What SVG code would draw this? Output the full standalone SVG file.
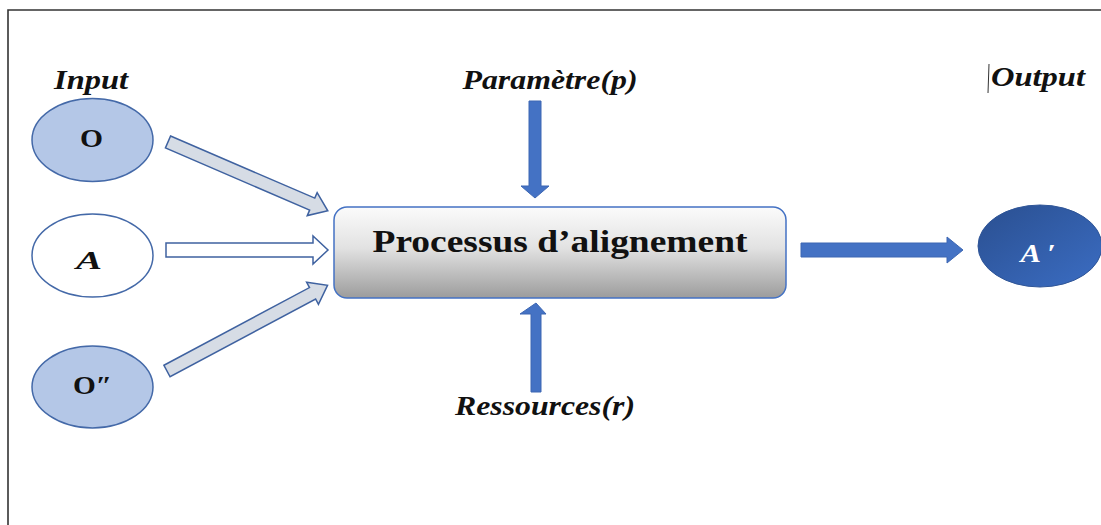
<svg xmlns="http://www.w3.org/2000/svg" width="1101" height="525" viewBox="0 0 1101 525">
<style>
.lbl{font-family:"Liberation Serif","Times New Roman",serif;font-weight:bold;font-style:italic;fill:#111;}
.nodetxt{font-family:"Liberation Serif","Times New Roman",serif;font-weight:bold;fill:#111;}
.inEll{stroke:#4469A8;stroke-width:1.5;}
.hollow{fill:#D6DCE5;stroke:#3F62A0;stroke-width:1.5;}
.solid{fill:#4472C4;stroke:#3D67B3;stroke-width:1;}
</style>
<defs>
<linearGradient id="boxg" x1="0" y1="0" x2="0" y2="1">
<stop offset="0" stop-color="#FBFBFB"/>
<stop offset="0.45" stop-color="#E2E2E2"/>
<stop offset="1" stop-color="#9C9C9C"/>
</linearGradient>
<linearGradient id="outg" x1="0" y1="0" x2="1" y2="1">
<stop offset="0" stop-color="#2A4F90"/>
<stop offset="1" stop-color="#3B6DC3"/>
</linearGradient>
</defs>
<rect width="1101" height="525" fill="#fff"/>
<path d="M8,525 V10 H1101" fill="none" stroke="#333" stroke-width="1.6"/>

<text class="lbl" x="91" y="89" font-size="27" text-anchor="middle" textLength="74" lengthAdjust="spacingAndGlyphs">Input</text>
<text class="lbl" x="550" y="89" font-size="27" text-anchor="middle" textLength="175" lengthAdjust="spacingAndGlyphs">Paramètre(p)</text>
<text class="lbl" x="545" y="415" font-size="27" text-anchor="middle" textLength="180" lengthAdjust="spacingAndGlyphs">Ressources(r)</text>
<line x1="989" y1="64" x2="988" y2="93" stroke="#333" stroke-width="1"/>
<text class="lbl" x="1038" y="86" font-size="27" text-anchor="middle" textLength="94" lengthAdjust="spacingAndGlyphs">Output</text>

<g id="connectors">
<polygon class="hollow" transform="translate(168,142) rotate(23.3)" points="0,-6.5 157,-6.5 157,-12.5 174,0 157,12.5 157,6.5 0,6.5"/>
<polygon fill="#fff" stroke="#3F62A0" stroke-width="1.5" points="166,243 313,243 313,236 328,250 313,264 313,257 166,257"/>
<polygon class="hollow" transform="translate(167,371) rotate(-28.1)" points="0,-6.5 165,-6.5 165,-12.5 182,0 165,12.5 165,6.5 0,6.5"/>
<polygon class="solid" points="529,101 541,101 541,186 549,186 535,198 521,186 529,186"/>
<polygon class="solid" points="531,392 541,392 541,314 546,314 536,303 520,314 531,314"/>
<polygon class="solid" points="801,243 947,243 947,237 963,250 947,263 947,257 801,257"/>
</g>

<g id="node-O">
<ellipse class="inEll" cx="92.5" cy="140" rx="60.5" ry="41.5" fill="#B4C7E7"/>
<text class="nodetxt" x="91.5" y="147" font-size="26" text-anchor="middle" textLength="23" lengthAdjust="spacingAndGlyphs">O</text>
</g>
<g id="node-A">
<ellipse class="inEll" cx="92.5" cy="255.5" rx="60.5" ry="41.5" fill="#fff"/>
<text class="lbl" x="89" y="269" font-size="26" text-anchor="middle" textLength="26" lengthAdjust="spacingAndGlyphs">A</text>
</g>
<g id="node-O2">
<ellipse class="inEll" cx="92.5" cy="387" rx="60.5" ry="41" fill="#B4C7E7"/>
<text class="nodetxt" x="92.5" y="394" font-size="26" text-anchor="middle" textLength="39" lengthAdjust="spacingAndGlyphs">O″</text>
</g>
<g id="node-process">
<rect x="334" y="207" width="452" height="91" rx="13" fill="url(#boxg)" stroke="#4472C4" stroke-width="1.5"/>
<text class="nodetxt" x="560" y="252" font-size="31" text-anchor="middle" textLength="375" lengthAdjust="spacingAndGlyphs">Processus d’alignement</text>
</g>
<g id="node-Aprime">
<ellipse cx="1040" cy="246" rx="62" ry="41" fill="url(#outg)" stroke="#2F5597" stroke-width="1"/>
<text class="lbl" x="1038" y="262" font-size="25" text-anchor="middle" style="fill:#fff" textLength="35" lengthAdjust="spacingAndGlyphs">A ′</text>
</g>
</svg>
